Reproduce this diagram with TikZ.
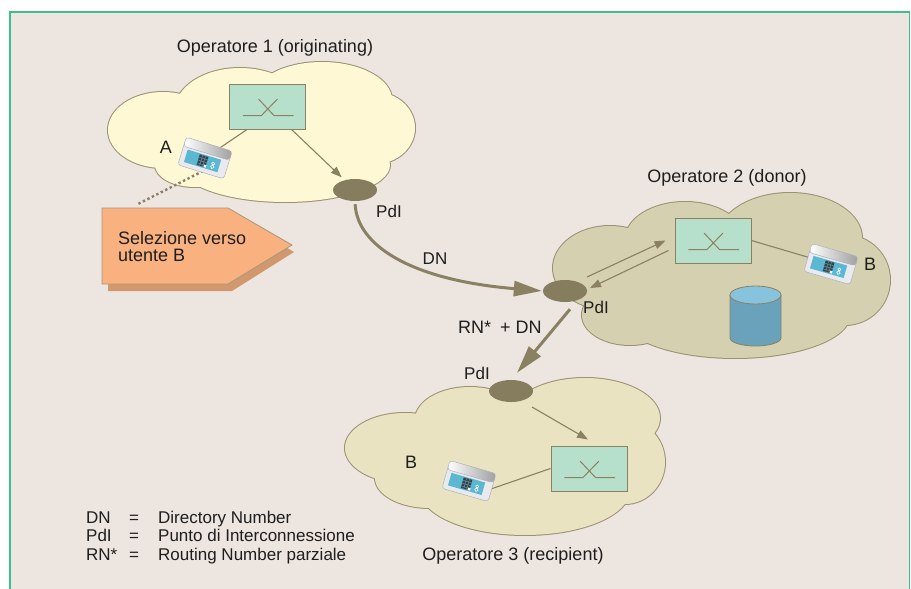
\documentclass[tikz,border=0pt]{standalone}
\usepackage{fontspec}
\setmainfont{Liberation Sans}
\usetikzlibrary{arrows.meta,shapes.geometric,calc}

\definecolor{paper}{HTML}{EDE5E0}
\definecolor{frameline}{HTML}{3DBF8D}
\definecolor{cloudA}{HTML}{FFF8D4}
\definecolor{cloudB}{HTML}{D5D0AF}
\definecolor{cloudC}{HTML}{E9E3C2}
\definecolor{cloudedge}{HTML}{9C9272}
\definecolor{boxfill}{HTML}{B7E0CC}
\definecolor{olive}{HTML}{8A8163}
\definecolor{pdifill}{HTML}{867D5F}
\definecolor{peach}{HTML}{F9B180}
\definecolor{peachshadow}{HTML}{D0986C}
\definecolor{peachedge}{HTML}{A8977A}
\definecolor{cylbody}{HTML}{6AA2BC}
\definecolor{cyltop}{HTML}{88C3DE}
\definecolor{phoneblue}{HTML}{5CB7D2}
\definecolor{phonebody}{HTML}{E8EAEE}
\definecolor{phoneedge}{HTML}{AEB2BA}
\definecolor{keypad}{HTML}{34424A}
\definecolor{ink}{HTML}{1E1E1E}

% cloud outlines as unions of ellipses (last one fills the core)
\newcommand\cloudOne{(163,130) ellipse[x radius=55,y radius=38]
  (240,110) ellipse[x radius=65,y radius=42]
  (322,100) ellipse[x radius=70,y radius=38]
  (375,128) ellipse[x radius=40,y radius=36]
  (285,165) ellipse[x radius=105,y radius=37]
  (195,165) ellipse[x radius=40,y radius=22]
  (270,135) ellipse[x radius=100,y radius=40]}
\newcommand\cloudTwo{(610,268) ellipse[x radius=57,y radius=42]
  (685,240) ellipse[x radius=60,y radius=38]
  (790,238) ellipse[x radius=72,y radius=45]
  (845,280) ellipse[x radius=45,y radius=45]
  (735,315) ellipse[x radius=115,y radius=43]
  (630,315) ellipse[x radius=48,y radius=30]
  (725,280) ellipse[x radius=110,y radius=45]}
\newcommand\cloudThree{(405,448) ellipse[x radius=60,y radius=35]
  (470,420) ellipse[x radius=55,y radius=33]
  (585,418) ellipse[x radius=75,y radius=40]
  (625,462) ellipse[x radius=40,y radius=42]
  (525,490) ellipse[x radius=105,y radius=45]
  (430,478) ellipse[x radius=55,y radius=30]
  (515,455) ellipse[x radius=95,y radius=40]}

\tikzset{
  lbl/.style={text=ink, inner sep=0pt, font=\fontsize{18}{20}\selectfont},
  small/.style={text=ink, inner sep=0pt, font=\fontsize{17}{19}\selectfont},
  switchbox/.style={draw=olive, fill=boxfill, line width=1pt, minimum width=76pt,
    minimum height=45pt, inner sep=0pt},
  pdi/.style={ellipse, fill=pdifill, minimum width=44pt, minimum height=22pt, inner sep=0pt},
  link/.style={draw=olive, line width=1.1pt},
  thinarrow/.style={link, -{Triangle[length=11pt,width=8pt]}},
  thickarrow/.style={draw=olive, line width=3pt, -{Triangle[length=28pt,width=15pt]}},
  pics/switchmark/.style={code={
    \draw[olive, line width=1pt] (-24.7,9) -- (-6,9) -- (10,-7.5)
                                 (-9,-7.5) -- (6.5,9) -- (26,9);
  }},
  pics/handset/.style={code={
    \path[rounded corners=3pt, fill=phonebody, draw=phoneedge, line width=0.5pt]
      (-24,-12) rectangle (24,14.5);
    \path[rounded corners=3pt, left color=white, right color=gray!75, draw=phoneedge,
      line width=0.5pt] (-24,-14.5) rectangle (24,-5);
    \fill[phoneblue] (-19,-3) rectangle (16,10);
    \fill[keypad] (-6,-2) rectangle (3,9);
    \draw[phoneblue!60!gray, line width=0.4pt] (-3,-2) -- (-3,9) (0,-2) -- (0,9)
      (-6,1) -- (3,1) (-6,4) -- (3,4) (-6,7) -- (3,7);
    \fill[white] (1,6.5) rectangle (3.5,9);
    \draw[white, line width=0.6pt] (9.5,3) circle[radius=1.5] (9.5,6.3) circle[radius=1.8];
  }}
}

\begin{document}
\begin{tikzpicture}[x=1pt,y=-1pt]
\useasboundingbox (0,0) rectangle (911,589);
\fill[white] (0,0) rectangle (911,589);
\begin{scope}
  \clip (0,0) rectangle (911,589);
  \filldraw[fill=paper, draw=frameline, line width=1.8pt] (10,12) rectangle (909.5,620);
\end{scope}

% clouds
\draw[cloudedge, line width=2pt] \cloudOne;
\fill[cloudA] \cloudOne;
\draw[cloudedge, line width=2pt] \cloudTwo;
\fill[cloudB] \cloudTwo;
\draw[cloudedge, line width=2pt] \cloudThree;
\fill[cloudC] \cloudThree;

% "Selezione verso utente B" arrow shape
\fill[peachshadow] (108,215) -- (232,215) -- (294,252) -- (232,291) -- (108,291) -- cycle;
\filldraw[fill=peach, draw=peachedge, line width=0.8pt]
  (102,208) -- (228,208) -- (292,245) -- (228,284) -- (102,284) -- cycle;
\node[lbl, anchor=north west, align=left, font=\fontsize{18}{17}\selectfont] (sel)
  at (118,231.5) {Selezione verso\\utente B};

% database
\path[fill=cylbody, draw=olive, line width=0.8pt]
  (730,295) -- (730,338) arc[start angle=180, end angle=0, x radius=25.5, y radius=8]
  -- (781,295) -- cycle;
\filldraw[fill=cyltop, draw=olive, line width=0.8pt] (755.5,295) ellipse[x radius=25.5, y radius=9];

% switches and points of interconnection
\node[switchbox] (sw1) at (267.5,106.5) {};
\node[switchbox] (sw2) at (713,240.5) {};
\node[switchbox] (sw3) at (589,468.5) {};
\foreach \sw in {sw1,sw2,sw3} \pic at (\sw) {switchmark};
\node[pdi] (pdi1) at (355,190) {};
\node[pdi] (pdi2) at (565,291) {};
\node[pdi] (pdi3) at (511,391) {};

% terminals
\coordinate (phA) at (205,158);
\coordinate (phAbot) at (203,171);
\coordinate (selTop) at (138,204);
\coordinate (phB) at (831,264);
\coordinate (phC) at (469,481);
\coordinate (phCport) at (485,491);

% access lines
\draw[link] ($(sw1.south west)+(18,0)$) -- (phA);
\draw[link] (sw2.east) -- (phB);
\draw[link] (sw3.west) -- (phCport);
\draw[olive, line width=2.4pt, dash pattern=on 2.4pt off 2.6pt] (phAbot) -- (selTop);

% signalling
\draw[thinarrow, shorten >=4pt] (sw1) -- (pdi1);
\draw[thinarrow] ($(pdi2)+(22,-14)$) -- ($(sw2.west)+(-9,0)$);
\draw[thinarrow] ($(sw2.west)+(-6,10)$) -- ($(pdi2)+(25,-3)$);
\draw[thinarrow] ($(pdi3)+(21,16)$) -- ($(sw3.north)+(-1,-6)$);
\draw[thickarrow, shorten <=3pt, shorten >=1pt] (pdi1.south) .. controls (357,245) and (410,280) .. (pdi2.west);
\draw[thickarrow] ($(pdi2.south)+(5,7)$) -- ($(pdi3.north)+(6,-7)$);

% handsets
\pic[rotate=-17] at (phA) {handset};
\pic[rotate=-16] at (phB) {handset};
\pic[rotate=-16] at (phC) {handset};

% labels
\node[lbl, anchor=base] (t1) at (275,52) {Operatore 1 (originating)};
\node[lbl, anchor=base] (t2) at (727,182) {Operatore 2 (donor)};
\node[lbl, anchor=base] (t3) at (513,560) {Operatore 3 (recipient)};
\node[lbl, anchor=base] (la) at (166,153) {A};
\node[lbl, anchor=base] (lb2) at (870,270) {B};
\node[lbl, anchor=base] (lb3) at (411,468) {B};
\node[small, anchor=base] (lp1) at (389,217) {PdI};
\node[small, anchor=base] (lp2) at (596,313) {PdI};
\node[small, anchor=base] (lp3) at (477,379) {PdI};
\node[small, anchor=base] (ldn) at (435,264) {DN};
\node[lbl, anchor=base] (lrn) at (500,333) {RN*\hspace{4pt} + DN};

% legend
\node[small, anchor=base west, font=\fontsize{17}{18.5}\selectfont] (legend) at (86,523)
  {\begin{tabular}[t]{@{}p{43pt}@{}p{29pt}@{}l@{}}
    DN & = & Directory Number\\
    PdI & = & Punto di Interconnessione\\
    RN* & = & Routing Number parziale
  \end{tabular}};
\end{tikzpicture}
\end{document}
